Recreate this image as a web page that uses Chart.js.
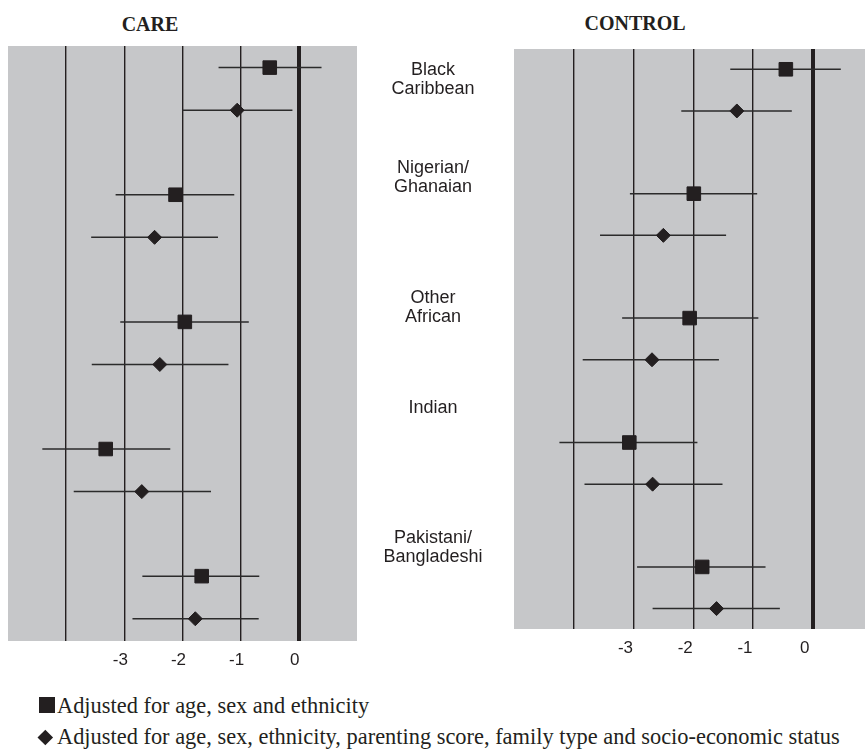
<!DOCTYPE html>
<html>
<head>
<meta charset="utf-8">
<script src="https://cdn.jsdelivr.net/npm/chart.js@4.4.0/dist/chart.umd.min.js"></script>
<style>
  body { margin: 0; background: #fff; width: 865px; height: 756px; position: relative; overflow: hidden;
         font-family: "Liberation Sans", Arial, sans-serif; color: #231f20; }
  .title { position: absolute; font: bold 20px "Liberation Serif", "Times New Roman", serif; transform: translate(-50%, -50%); }
  .panel { position: absolute; }
  .cat { position: absolute; width: 160px; margin-left: -80px; text-align: center; font-size: 18px; line-height: 19px; }
  .legend { position: absolute; left: 57px; font: 22.4px "Liberation Serif", "Times New Roman", serif; line-height: 22px; white-space: nowrap; }
  .sq { position: absolute; left: 39px; top: 697px; width: 16px; height: 16px; background: #231f20; }
  .dm { position: absolute; left: 39.7px; top: 731.7px; width: 10.6px; height: 10.6px; background: #231f20; transform: rotate(45deg); }
</style>
</head>
<body>
<div class="title" style="left:150px; top:24px">CARE</div>
<div class="title" style="left:635px; top:23px">CONTROL</div>

<div class="panel" style="left:8px; top:46px; width:349px; height:635px"><canvas id="careChart"></canvas></div>
<div class="panel" style="left:514px; top:49px; width:351px; height:620px"><canvas id="controlChart"></canvas></div>

<div id="cats"></div>

<span class="sq"></span>
<div class="legend" style="top:695px">Adjusted for age, sex and ethnicity</div>
<span class="dm"></span>
<div class="legend" style="top:726px">Adjusted for age, sex, ethnicity, parenting score, family type and socio-economic status</div>

<script>
// groups, top to bottom
const categories = [['Black', 'Caribbean'], ['Nigerian/', 'Ghanaian'], ['Other', 'African'], ['Indian'], ['Pakistani/', 'Bangladeshi']];

// CARE: adjusted for age, sex and ethnicity (squares)
const careA = [-0.50, -2.12, -1.96, -3.32, -1.67];
const careALo = [-1.38, -3.15, -3.07, -4.41, -2.69];
const careAHi = [0.39, -1.11, -0.86, -2.21, -0.68];
// CARE: fully adjusted (diamonds)
const careB = [-1.06, -2.48, -2.39, -2.70, -1.78];
const careBLo = [-2.00, -3.57, -3.56, -3.87, -2.86];
const careBHi = [-0.11, -1.39, -1.21, -1.51, -0.69];

// CONTROL
const ctrlA = [-0.45, -1.99, -2.06, -3.07, -1.85];
const ctrlALo = [-1.38, -3.06, -3.19, -4.24, -2.94];
const ctrlAHi = [0.47, -0.93, -0.91, -1.93, -0.79];
const ctrlB = [-1.27, -2.50, -2.69, -2.68, -1.61];
const ctrlBLo = [-2.20, -3.56, -3.85, -3.82, -2.68];
const ctrlBHi = [-0.35, -1.45, -1.57, -1.51, -0.55];

const tickValues = [-4, -3, -2, -1, 0];
const tickLabels = ['', '-3', '-2', '-1', '0'];

const INK = '#231f20';
const DIAMOND_OFF = 0.335;

// group labels in the middle
const catTops = [60, 158, 288, 398, 528];
const catsEl = document.getElementById('cats');
categories.forEach(function(lines, i) {
    const d = document.createElement('div');
    d.className = 'cat';
    d.style.left = '433px';
    d.style.top = catTops[i] + 'px';
    d.innerHTML = lines.join('<br>');
    catsEl.appendChild(d);
});

const grayBg = {
    id: 'grayBg',
    beforeDraw(chart) {
        const a = chart.chartArea, ctx = chart.ctx;
        ctx.save();
        ctx.fillStyle = '#c6c7c9';
        ctx.fillRect(a.left, a.top, a.right - a.left, a.bottom - a.top);
        ctx.restore();
    }
};

function pointsOf(vals, off) {
    return vals.map((v, i) => ({ x: v, y: i + off }));
}

function ciOf(lo, hi, off) {
    const pts = [];
    lo.forEach((v, i) => {
        pts.push({ x: v, y: i + off }, { x: hi[i], y: i + off }, { x: hi[i], y: null });
    });
    return pts;
}

function makePanel(id, a, aLo, aHi, b, bLo, bHi, xMax, yMin, yMax, labelOffset) {
    const el = document.getElementById(id);
    if (!el) return;
    new Chart(el, {
        type: 'line',
        data: {
            datasets: [
                { data: pointsOf(a, 0), showLine: false, pointStyle: 'rect', pointRadius: 9.6,
                  backgroundColor: INK, borderColor: INK, borderWidth: 1, order: 0 },
                { data: pointsOf(b, DIAMOND_OFF), showLine: false, pointStyle: 'rectRot', pointRadius: 7,
                  backgroundColor: INK, borderColor: INK, borderWidth: 1, order: 0 },
                { data: ciOf(aLo, aHi, 0), borderColor: '#2b2b2b', borderWidth: 1.5, pointRadius: 0, spanGaps: false, order: 1 },
                { data: ciOf(bLo, bHi, DIAMOND_OFF), borderColor: '#2b2b2b', borderWidth: 1.5, pointRadius: 0, spanGaps: false, order: 1 }
            ]
        },
        options: {
            responsive: true,
            maintainAspectRatio: false,
            animation: false,
            layout: { padding: 0, autoPadding: false },
            plugins: { legend: { display: false }, tooltip: { enabled: false } },
            scales: {
                x: {
                    type: 'linear', min: -5, max: xMax,
                    afterBuildTicks: s => { s.ticks = tickValues.map(v => ({ value: v })); },
                    afterFit: s => { s.height = 40; },
                    ticks: {
                        autoSkip: false, maxRotation: 0, padding: 9, labelOffset: labelOffset,
                        color: INK, font: { family: '"Liberation Sans", Arial, sans-serif', size: 17 },
                        callback: v => tickLabels[tickValues.indexOf(v)]
                    },
                    grid: {
                        color: INK, drawTicks: false,
                        lineWidth: c => (c.tick && c.tick.value === 0) ? 4 : 1.4
                    },
                    border: { display: false }
                },
                y: {
                    type: 'linear', reverse: true, min: yMin, max: yMax, display: false
                }
            }
        },
        plugins: [grayBg]
    });
}

document.addEventListener('DOMContentLoaded', function() {
    makePanel('careChart', careA, careALo, careAHi, careB, careBLo, careBHi, 1, -0.17, 4.51, -4);
    makePanel('controlChart', ctrlA, ctrlALo, ctrlAHi, ctrlB, ctrlBLo, ctrlBHi, 0.875, -0.163, 4.499, -8);
});
</script>
</body>
</html>
